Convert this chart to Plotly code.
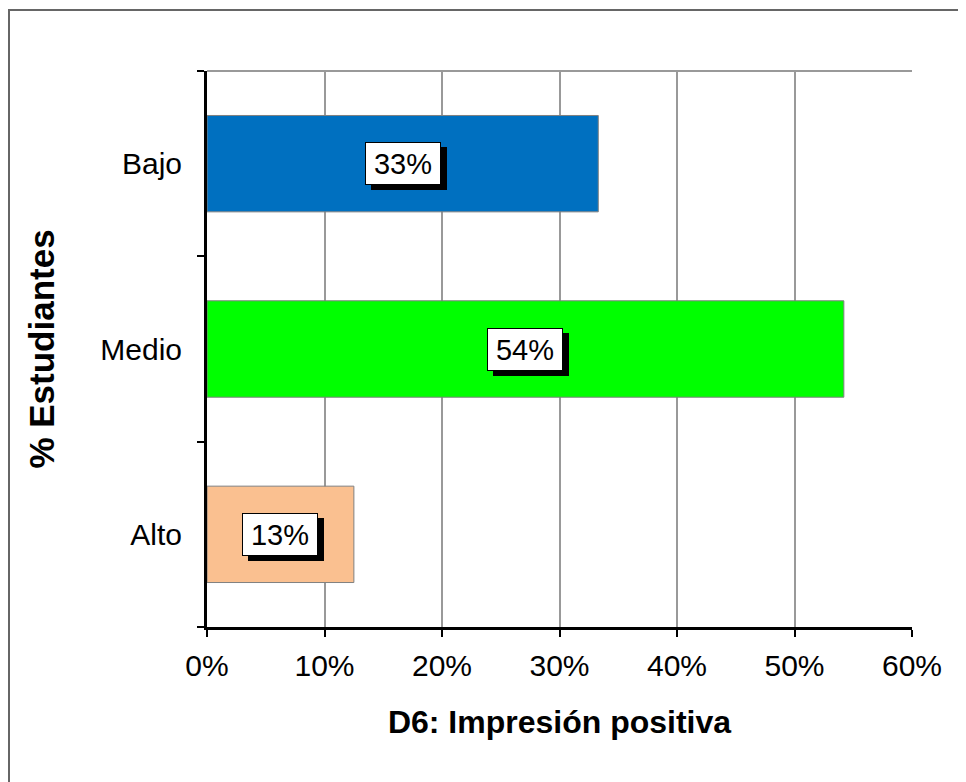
import plotly.graph_objects as go

categories = ["Bajo", "Medio", "Alto"]
values = [33.3, 54.2, 12.5]
labels = ["33%", "54%", "13%"]
colors = ["#0070C0", "#00FF00", "#FAC090"]

x_ticks = [0, 10, 20, 30, 40, 50, 60]
x_ticktext = ["0%", "10%", "20%", "30%", "40%", "50%", "60%"]

FONT = "Arial, Liberation Sans, sans-serif"

fig = go.Figure(
    go.Bar(
        y=categories,
        x=values,
        orientation="h",
        marker=dict(color=colors, line=dict(color="#808080", width=1)),
        width=0.52,
        hoverinfo="skip",
    )
)

# data labels: white box with a black drop shadow
for cat, val, lab in zip(categories, values, labels):
    common = dict(x=val / 2, y=cat, xref="x", yref="y", showarrow=False,
                  width=72, height=39, borderpad=1,
                  font=dict(family=FONT, size=29, color="black"))
    fig.add_annotation(text=" ", bgcolor="black", bordercolor="black",
                       borderwidth=1, xshift=6, yshift=-5, **common)
    fig.add_annotation(text=lab, bgcolor="white", bordercolor="black",
                       borderwidth=1, **common)

# top border of plot area
fig.add_shape(type="line", xref="paper", yref="paper", x0=0, x1=1, y0=1, y1=1,
              line=dict(color="#999999", width=2))
# outer chart frame
fig.add_shape(type="rect", xref="paper", yref="paper",
              x0=-198 / 705, x1=1.2, y0=-1.0, y1=1 + 61 / 556,
              line=dict(color="#666666", width=2), fillcolor="rgba(0,0,0,0)",
              layer="below")

fig.update_layout(
    width=966,
    height=782,
    margin=dict(l=199, r=62, t=63, b=163),
    paper_bgcolor="white",
    plot_bgcolor="white",
    showlegend=False,
    font=dict(family=FONT, size=30, color="black"),
    xaxis=dict(
        range=[0, 60],
        tickvals=x_ticks,
        ticktext=x_ticktext,
        tickfont=dict(size=30),
        showgrid=True,
        gridcolor="#999999",
        gridwidth=2,
        zeroline=False,
        showline=True,
        linecolor="black",
        linewidth=3,
        ticks="outside",
        ticklen=7,
        tickwidth=2,
        tickcolor="black",
        ticklabelstandoff=3,
        title=dict(text="<b>D6: Impresión positiva</b>", standoff=30,
                   font=dict(size=32)),
    ),
    yaxis=dict(
        categoryorder="array",
        categoryarray=categories[::-1],
        tickson="boundaries",
        tickfont=dict(size=30),
        showgrid=False,
        showline=True,
        linecolor="black",
        linewidth=3,
        ticks="outside",
        ticklen=7,
        tickwidth=2,
        tickcolor="black",
        ticklabelstandoff=16,
        title=dict(text="<b>% Estudiantes</b>", standoff=36,
                   font=dict(size=35)),
    ),
)

fig.write_html("out.html")
